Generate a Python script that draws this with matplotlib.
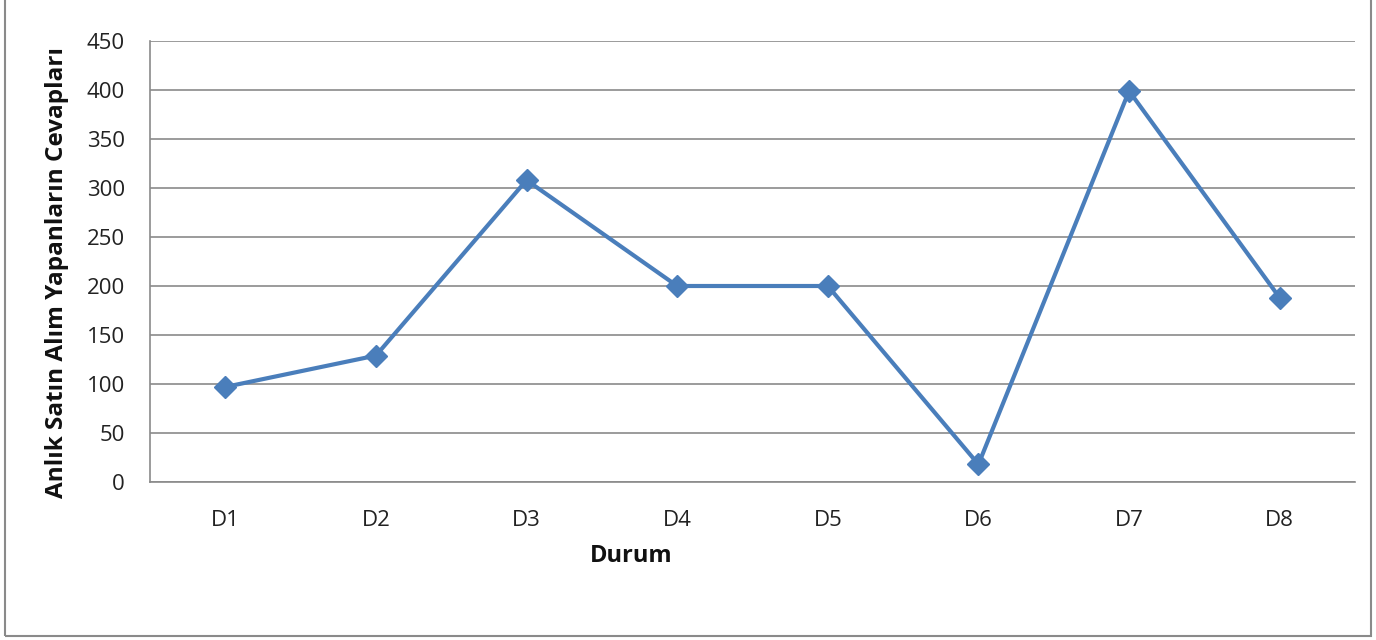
import matplotlib
matplotlib.use("Agg")
import matplotlib.pyplot as plt
from matplotlib.patches import Rectangle

categories = ["D1", "D2", "D3", "D4", "D5", "D6", "D7", "D8"]
values = [97, 129, 308, 200, 200, 18, 399, 188]
yticks = [0, 50, 100, 150, 200, 250, 300, 350, 400, 450]

plt.rcParams["font.family"] = ["Open Sans", "DejaVu Sans"]

W, H = 1376, 640
fig = plt.figure(figsize=(W / 100, H / 100), dpi=100)
ax = fig.add_axes([150 / W, 1 - 482 / H, 1205 / W, 441 / H])

x = list(range(len(categories)))
ax.plot(x, values, color="#4A7EBB", linewidth=3.0, marker="D",
        markersize=11, markerfacecolor="#4A7EBB", markeredgecolor="#4A7EBB",
        zorder=3)

ax.set_xlim(-0.5, len(categories) - 0.5)
ax.set_ylim(0, 450)
ax.set_yticks(yticks)
ax.set_xticks(x)
ax.set_xticklabels(categories)
ax.grid(axis="y", color="#8a8a8a", linewidth=1.2)
ax.set_axisbelow(True)

for side in ("top", "right"):
    ax.spines[side].set_visible(False)
for side in ("left", "bottom"):
    ax.spines[side].set_color("#8a8a8a")
    ax.spines[side].set_linewidth(1.2)

ax.tick_params(axis="both", length=0, labelsize=16, colors="#222222")
ax.tick_params(axis="y", pad=18)
ax.tick_params(axis="x", pad=20)

fig.text(631 / W, 1 - 556 / H, "Durum", fontsize=17, fontweight="bold",
         ha="center", va="center", color="#111111")
fig.text(57 / W, 1 - 272 / H, "Anlık Satın Alım Yapanların Cevapları",
         fontsize=17.5, fontweight="bold", rotation=90,
         ha="center", va="center", color="#111111")

fig.patches.append(Rectangle((5 / W, 4 / H), 1366 / W, 1.0,
                             transform=fig.transFigure, fill=False,
                             edgecolor="#8a8a8a", linewidth=1.5))

fig.savefig("out.png", dpi=100, facecolor="white")
